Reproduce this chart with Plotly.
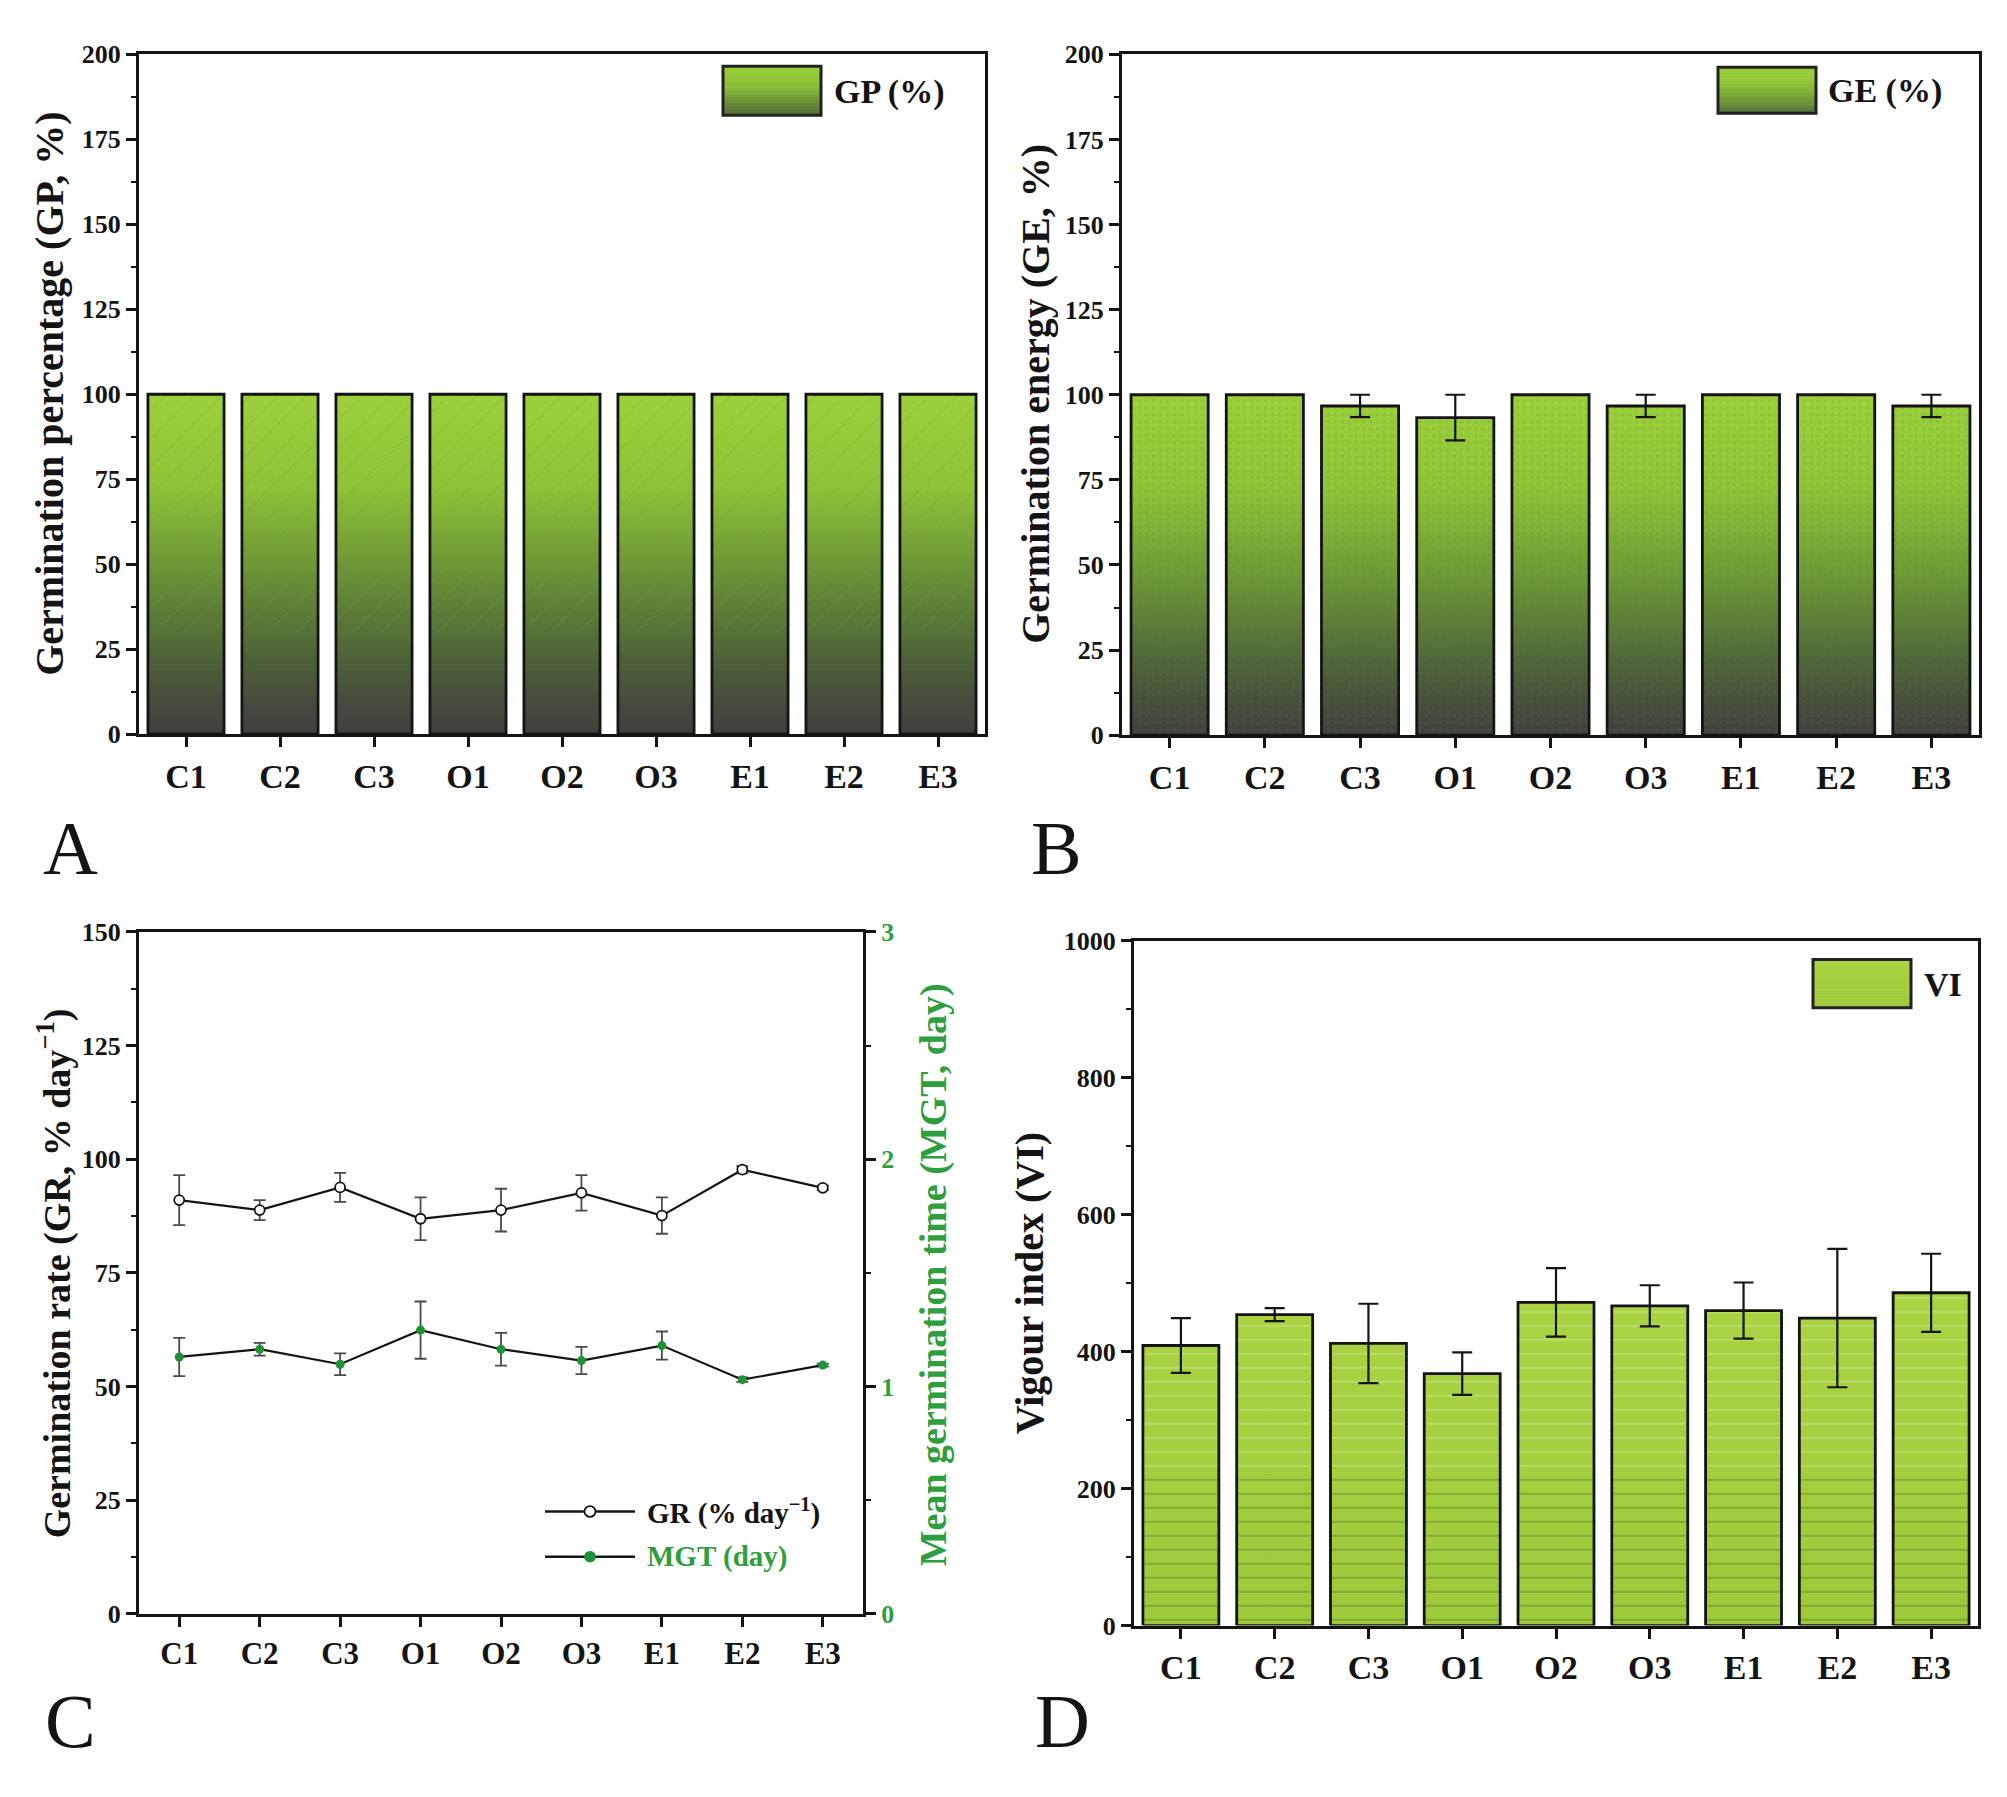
import plotly.graph_objects as go

# ---------------- data ----------------
categories = ['C1', 'C2', 'C3', 'O1', 'O2', 'O3', 'E1', 'E2', 'E3']

gp_values = [100, 100, 100, 100, 100, 100, 100, 100, 100]

ge_values = [100, 100, 96.7, 93.3, 100, 96.7, 100, 100, 96.7]
ge_errors = [0, 0, 3.3, 6.7, 0, 3.3, 0, 0, 3.3]

gr_values = [91.0, 88.8, 93.8, 86.9, 88.8, 92.6, 87.6, 97.7, 93.7]
gr_errors = [5.5, 2.2, 3.2, 4.7, 4.7, 3.9, 4.0, 0.8, 0.5]

mgt_values = [1.13, 1.164, 1.098, 1.248, 1.164, 1.114, 1.18, 1.03, 1.094]
mgt_errors = [0.084, 0.028, 0.048, 0.126, 0.072, 0.06, 0.062, 0.01, 0.006]

vi_values = [409, 454, 412, 368, 472, 467, 460, 449, 486]
vi_errors = [40, 9.5, 58, 31, 50, 30, 41, 101, 57]

pct_ticks = [0, 25, 50, 75, 100, 125, 150, 175, 200]
gr_ticks = [0, 25, 50, 75, 100, 125, 150]
mgt_ticks = [0, 1, 2, 3]
vi_ticks = [0, 200, 400, 600, 800, 1000]

# ---------------- styling ----------------
W, H = 2007, 1797
FONT = 'Liberation Serif'
INK = '#141414'
GREEN_TXT = '#2f9e3f'
MGT_GREEN = '#1f9236'
BAR_W = 0.81

CS_A = [[0, '#3c3c3c'], [0.12, '#454b3d'], [0.25, '#4d6238'], [0.5, '#6a9236'],
        [0.75, '#8fc337'], [1, '#9ccf3a']]
CS_B = [[0, '#3d3d3d'], [0.12, '#464d3d'], [0.25, '#50663a'], [0.5, '#6f9a36'],
        [0.75, '#91c537'], [1, '#9dcf3a']]
CS_D = [[0, '#9dc93a'], [1, '#abd443']]


def fx(p):
    return p / W


def fy(p):
    return 1 - p / H


def hex2rgb(h):
    h = h.lstrip('#')
    return tuple(int(h[i:i + 2], 16) for i in (0, 2, 4))


def interp(cs, t):
    for (t0, c0), (t1, c1) in zip(cs[:-1], cs[1:]):
        if t0 <= t <= t1:
            a, b = hex2rgb(c0), hex2rgb(c1)
            f = 0 if t1 == t0 else (t - t0) / (t1 - t0)
            return 'rgb(%d,%d,%d)' % tuple(round(a[k] + (b[k] - a[k]) * f) for k in range(3))
    return cs[-1][1]


def bar_polys(vals, w, lo=0.0, hi=None):
    xs, ys = [], []
    for i, v in enumerate(vals):
        top = v if hi is None else min(v, hi)
        if top <= lo:
            continue
        xs += [i - w / 2, i + w / 2, i + w / 2, i - w / 2, i - w / 2, None]
        ys += [lo, lo, top, top, lo, None]
    return xs, ys


fig = go.Figure()
idx = list(range(len(categories)))


def add_bar_panel(vals, errs, xa, ya, cs, gstop, patterns):
    xs, ys = bar_polys(vals, BAR_W)
    fig.add_trace(go.Scatter(x=xs, y=ys, mode='lines', line=dict(width=0), fill='toself',
                             fillcolor=cs[-2][1],
                             fillgradient=dict(type='vertical', colorscale=cs, start=0, stop=gstop),
                             hoverinfo='skip', showlegend=False, xaxis=xa, yaxis=ya))
    for (lo, hi, pat) in patterns:
        pxs, pys = bar_polys(vals, BAR_W, lo, hi)
        fig.add_trace(go.Scatter(x=pxs, y=pys, mode='lines', line=dict(width=0), fill='toself',
                                 fillcolor='rgba(0,0,0,0)', fillpattern=pat,
                                 hoverinfo='skip', showlegend=False, xaxis=xa, yaxis=ya))
    fig.add_trace(go.Scatter(x=xs, y=ys, mode='lines', line=dict(color=INK, width=2.8),
                             hoverinfo='skip', showlegend=False, xaxis=xa, yaxis=ya))
    if errs is not None:
        fig.add_trace(go.Scatter(x=idx, y=vals, mode='markers',
                                 marker=dict(size=2, color='rgba(0,0,0,0)'),
                                 error_y=dict(type='data', array=errs, color=INK, thickness=2.2, width=10),
                                 hoverinfo='skip', showlegend=False, xaxis=xa, yaxis=ya))


# Panel A
add_bar_panel(gp_values, None, 'x', 'y', CS_A, 100,
              [(30, None, dict(shape='/', fgcolor='rgba(105,165,45,0.45)', size=20, solidity=0.07))])
# Panel B
add_bar_panel(ge_values, ge_errors, 'x2', 'y2', CS_B, 100,
              [(0, None, dict(shape='.', fgcolor='rgba(70,140,40,0.30)', size=7, solidity=0.25))])
# Panel D
add_bar_panel(vi_values, vi_errors, 'x4', 'y5', CS_D, 500,
              [(0, 230, dict(shape='-', fgcolor='rgba(40,90,30,0.55)', size=14, solidity=0.14)),
               (230, None, dict(shape='-', fgcolor='rgba(245,250,230,0.55)', size=14, solidity=0.12))])

# Panel C
fig.add_trace(go.Scatter(x=idx, y=gr_values, mode='lines+markers', name='GR',
                         line=dict(color=INK, width=2.2),
                         marker=dict(symbol='circle', size=10, color='white', line=dict(color=INK, width=1.8)),
                         error_y=dict(type='data', array=gr_errors, color='#4a4a4a', thickness=1.8, width=6),
                         showlegend=False, xaxis='x3', yaxis='y3'))
fig.add_trace(go.Scatter(x=idx, y=mgt_values, mode='lines+markers', name='MGT',
                         line=dict(color=INK, width=2.2),
                         marker=dict(symbol='circle', size=9, color=MGT_GREEN),
                         error_y=dict(type='data', array=mgt_errors, color='#4a4a4a', thickness=1.8, width=6),
                         showlegend=False, xaxis='x3', yaxis='y4'))


# ---------------- axes ----------------
def xcfg(px0, px1, anchor, fsize=34):
    return dict(domain=[fx(px0), fx(px1)], anchor=anchor, range=[-0.5, 8.5],
                tickmode='array', tickvals=idx, ticktext=categories,
                ticks='outside', ticklen=10, tickwidth=2.5, tickcolor=INK,
                showline=True, linecolor=INK, linewidth=3, mirror=True,
                showgrid=False, zeroline=False,
                tickfont=dict(family=FONT, size=fsize, color=INK, weight='bold'))


def ycfg(py0, py1, anchor, rng, ticks, minor, mirror=True, tcolor=INK):
    return dict(domain=[fy(py1), fy(py0)], anchor=anchor, range=rng,
                tickmode='array', tickvals=ticks,
                ticks='outside', ticklen=10, tickwidth=2.5, tickcolor=INK,
                minor=dict(tickmode='linear', tick0=0, dtick=minor, ticks='outside',
                           ticklen=5, tickwidth=2, tickcolor=INK),
                showline=True, linecolor=INK, linewidth=3, mirror=mirror,
                showgrid=False, zeroline=False,
                tickfont=dict(family=FONT, size=26, color=tcolor, weight='bold'))


fig.update_layout(
    xaxis=xcfg(139, 985, 'y'),
    yaxis=ycfg(41, 732, 'x', [0, 200], pct_ticks, 12.5),
    xaxis2=xcfg(1122, 1979, 'y2'),
    yaxis2=ycfg(41, 733, 'x2', [0, 200], pct_ticks, 12.5),
    xaxis3=xcfg(139, 863, 'y3', 31),
    yaxis3=ycfg(933, 1626, 'x3', [0, 150], gr_ticks, 12.5, mirror=False),
    yaxis4=dict(ycfg(933, 1626, 'x3', [0, 3], mgt_ticks, 0.5, mirror=False, tcolor=GREEN_TXT),
                overlaying='y3', side='right'),
    xaxis4=xcfg(1134, 1978, 'y5'),
    yaxis5=ycfg(942, 1638, 'x4', [0, 1000], vi_ticks, 100),
)

shapes = []
annotations = []


def add_text(x, y, text, size, color=INK, weight='bold', angle=0, xanchor='center'):
    annotations.append(dict(x=fx(x), y=fy(y), xref='paper', yref='paper', text=text, showarrow=False,
                            textangle=angle, xanchor=xanchor, yanchor='middle',
                            font=dict(family=FONT, size=size, color=color, weight=weight)))


# axis titles
add_text(50, 386, 'Germination percentage (GP, %)', 40, angle=-90)
add_text(1036, 386, 'Germination energy (GE, %)', 40, angle=-90)
add_text(54, 1280, 'Germination rate (GR, % day<sup>−1</sup>)', 38, angle=-90)
add_text(933, 1282, 'Mean germination time (MGT, day)', 38, color=GREEN_TXT, angle=-90)
add_text(1029, 1290, 'Vigour index (VI)', 40, angle=-90)

# panel letters
for (lx, ly, letter) in [(70, 848, 'A'), (1056, 848, 'B'), (70, 1735, 'C'), (1062, 1735, 'D')]:
    add_text(lx, ly, letter, 76, weight='normal')


def grad_swatch(x0, y0, x1, y1, cs, t0=0.0, t1=1.0, n=16):
    h = (y1 - y0) / n
    for k in range(n):
        t = t0 + (t1 - t0) * (k + 0.5) / n
        yb = y1 - k * h
        shapes.append(dict(type='rect', xref='paper', yref='paper', x0=fx(x0), x1=fx(x1),
                           y0=fy(yb), y1=fy(yb - h - 0.5), fillcolor=interp(cs, t),
                           line=dict(width=0), layer='above'))
    shapes.append(dict(type='rect', xref='paper', yref='paper', x0=fx(x0), x1=fx(x1),
                       y0=fy(y1), y1=fy(y0), line=dict(color='#222', width=3), layer='above'))


# legends for bar panels
grad_swatch(723, 53, 821, 103, CS_A, 0.3, 1.0)
add_text(832, 79, 'GP (%)', 34, xanchor='left')
grad_swatch(1718, 54, 1816, 101, CS_B, 0.3, 1.0)
add_text(1826, 78, 'GE (%)', 34, xanchor='left')
grad_swatch(1813, 961, 1911, 1010, CS_D, 0.0, 1.0)
add_text(1922, 986, 'VI', 34, xanchor='left')

# legend for panel C
for (ly, fill, txt, col, r) in [(1522, 'white', 'GR (% day<sup>−1</sup>)', INK, 5.5),
                                (1568, MGT_GREEN, 'MGT (day)', GREEN_TXT, 5.0)]:
    shapes.append(dict(type='line', xref='paper', yref='paper', x0=fx(545), x1=fx(635),
                       y0=fy(ly), y1=fy(ly), line=dict(color=INK, width=2.5), layer='above'))
    shapes.append(dict(type='circle', xref='paper', yref='paper', x0=fx(590 - r), x1=fx(590 + r),
                       y0=fy(ly + r), y1=fy(ly - r), fillcolor=fill,
                       line=dict(color=INK if fill == 'white' else fill, width=1.8), layer='above'))
    add_text(645, ly, txt, 29, color=col, xanchor='left')

fig.update_layout(
    width=W, height=H, margin=dict(l=0, r=0, t=0, b=0, pad=0),
    paper_bgcolor='white', plot_bgcolor='white', showlegend=False,
    shapes=shapes, annotations=annotations,
    font=dict(family=FONT, color=INK),
)

fig.write_html("out.html")
